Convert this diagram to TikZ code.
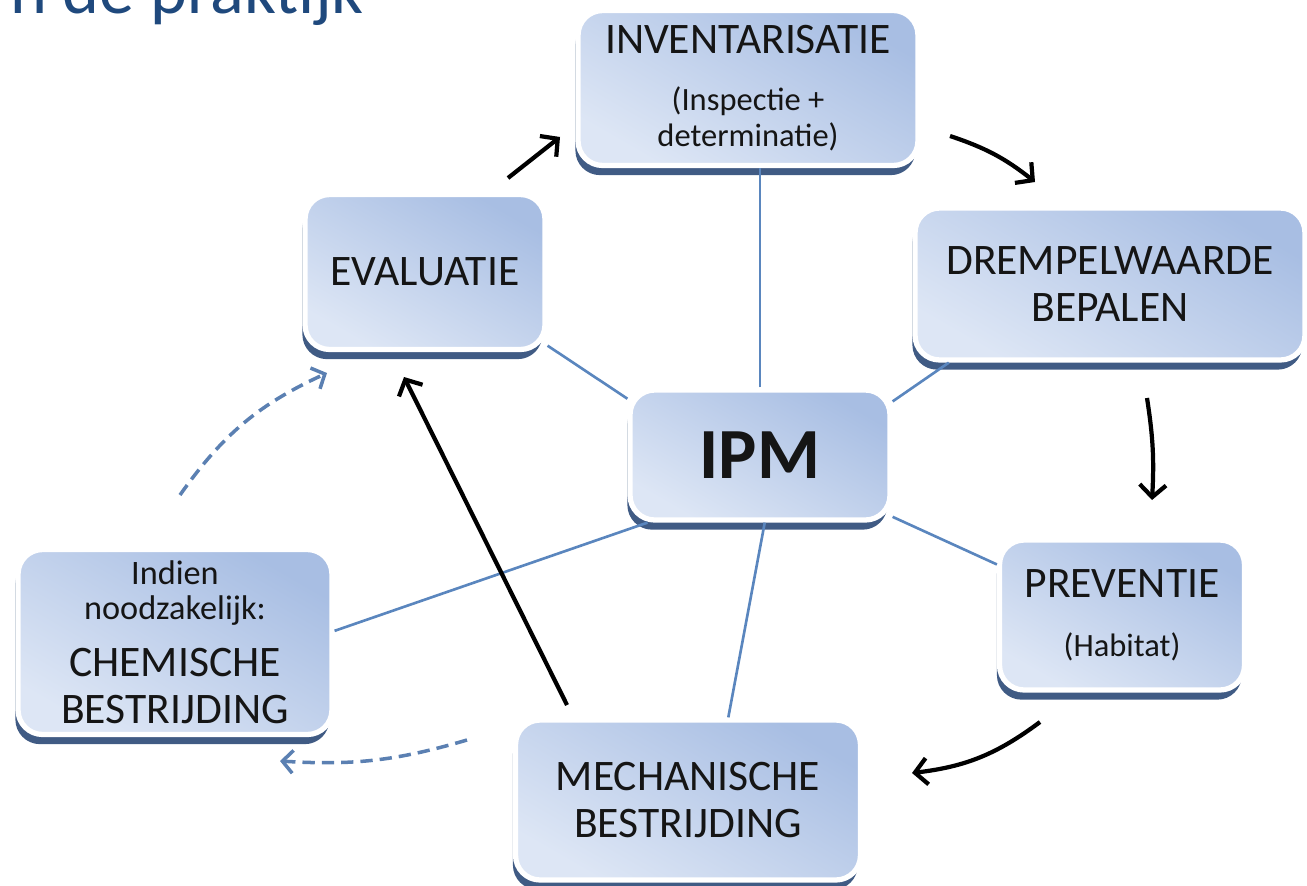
\documentclass[tikz,border=0pt]{standalone}
\usepackage{fontspec}
\setmainfont{Carlito}
\usetikzlibrary{arrows.meta,shadows}
\definecolor{titleblue}{HTML}{1F497D}
\definecolor{boxlight}{HTML}{DDE6F5}
\definecolor{boxdark}{HTML}{A8BEE3}
\definecolor{shadowblue}{HTML}{1F3E6E}
\definecolor{linkblue}{HTML}{5A86BE}
\definecolor{dashblue}{HTML}{5B80B2}
\definecolor{textdark}{HTML}{151515}
\newcommand\bigtext{\fontsize{24.8}{26.5}\selectfont}
\newcommand\smalltext{\fontsize{18.5}{20}\selectfont}
\tikzset{
  stage/.style={rounded corners=14pt, draw=white, line width=3pt,
    top color=boxdark, bottom color=boxlight, shading angle=-30,
    drop shadow={shadow xshift=-1.5pt, shadow yshift=-5.5pt, fill=shadowblue, opacity=0.85},
    align=center, text=textdark, inner sep=4pt, font=\bigtext},
  spoke/.style={linkblue, line width=1.5pt},
  cyclearrow/.style={-{Straight Barb[length=7pt,width=15pt]}, line width=2.4pt, black},
  maybearrow/.style={-{Straight Barb[length=6pt,width=13pt]}, dashblue, line width=2pt, dash pattern=on 7pt off 4pt}
}
\begin{document}
\begin{tikzpicture}[x=0.02cm, y=0.02cm]
  \useasboundingbox (0,0) rectangle (1307,-885);
  \node[anchor=base east, text=titleblue, font=\fontsize{40}{48}\selectfont] (title) at (370,-14) {n de praktijk};

  \node[stage, minimum width=6.8cm, minimum height=3.1cm] (inv) at (748,-88)
    {INVENTARISATIE\\[6pt]\smalltext (Inspectie +\\[-6.5pt]\smalltext determinatie)};
  \node[stage, minimum width=7.8cm, minimum height=3.04cm] (drem) at (1110,-284)
    {DREMPELWAARDE\\BEPALEN};
  \node[stage, minimum width=4.8cm, minimum height=3.1cm] (eva) at (425,-272) {EVALUATIE};
  \node[stage, minimum width=5.2cm, minimum height=2.6cm, font=\fontsize{41}{48}\selectfont\bfseries] (ipm) at (760,-455) {IPM};
  \node[stage, minimum width=4.9cm, minimum height=3.0cm] (prev) at (1122,-615)
    {PREVENTIE\\[7pt]\smalltext (Habitat)};
  \node[stage, minimum width=6.9cm, minimum height=3.2cm] (mech) at (688,-800)
    {MECHANISCHE\\BESTRIJDING};
  \node[stage, minimum width=6.28cm, minimum height=3.7cm] (chem) at (175,-642)
    {\fontsize{19.5}{20}\selectfont Indien\\[-6.5pt]\fontsize{19.5}{20}\selectfont noodzakelijk:\\[6pt]CHEMISCHE\\BESTRIJDING};

  % spokes from IPM
  \draw[spoke] (ipm.north) -- (ipm.north |- inv.south);
  \draw[spoke] (ipm.157) -- (eva.-31);
  \draw[spoke] (ipm.22) -- (drem.206);
  \draw[spoke] (ipm.-25) -- (prev.158);
  \draw[spoke] (ipm.-86) -- (mech.64);
  \draw[spoke] (ipm.211) -- (chem.4);

  % cycle
  \coordinate (evainv1) at (508,-178);
  \coordinate (evainv2) at (560,-137);
  \coordinate (invdrem1) at (950,-136);
  \coordinate (invdrem2) at (1035,-182);
  \coordinate (dremprev1) at (1147,-398);
  \coordinate (dremprev2) at (1152,-500);
  \coordinate (prevmech1) at (1040,-722);
  \coordinate (prevmech2) at (912,-773);
  \coordinate (mecheva1) at (567,-705);
  \coordinate (mecheva2) at (404,-377);
  \coordinate (mechchem1) at (467,-740);
  \coordinate (mechchem2) at (280,-761);
  \coordinate (chemeva1) at (180,-495);
  \coordinate (chemeva2) at (327,-373);
  \draw[cyclearrow] (evainv1) -- (evainv2);
  \draw[cyclearrow] (invdrem1) to[bend left=10] (invdrem2);
  \draw[cyclearrow] (dremprev1) to[bend left=6] (dremprev2);
  \draw[cyclearrow] (prevmech1) to[bend left=15] (prevmech2);
  \draw[cyclearrow] (mecheva1) -- (mecheva2);
  \draw[maybearrow] (mechchem1) to[bend left=10] (mechchem2);
  \draw[maybearrow] (chemeva1) to[bend left=15] (chemeva2);
\end{tikzpicture}
\end{document}
